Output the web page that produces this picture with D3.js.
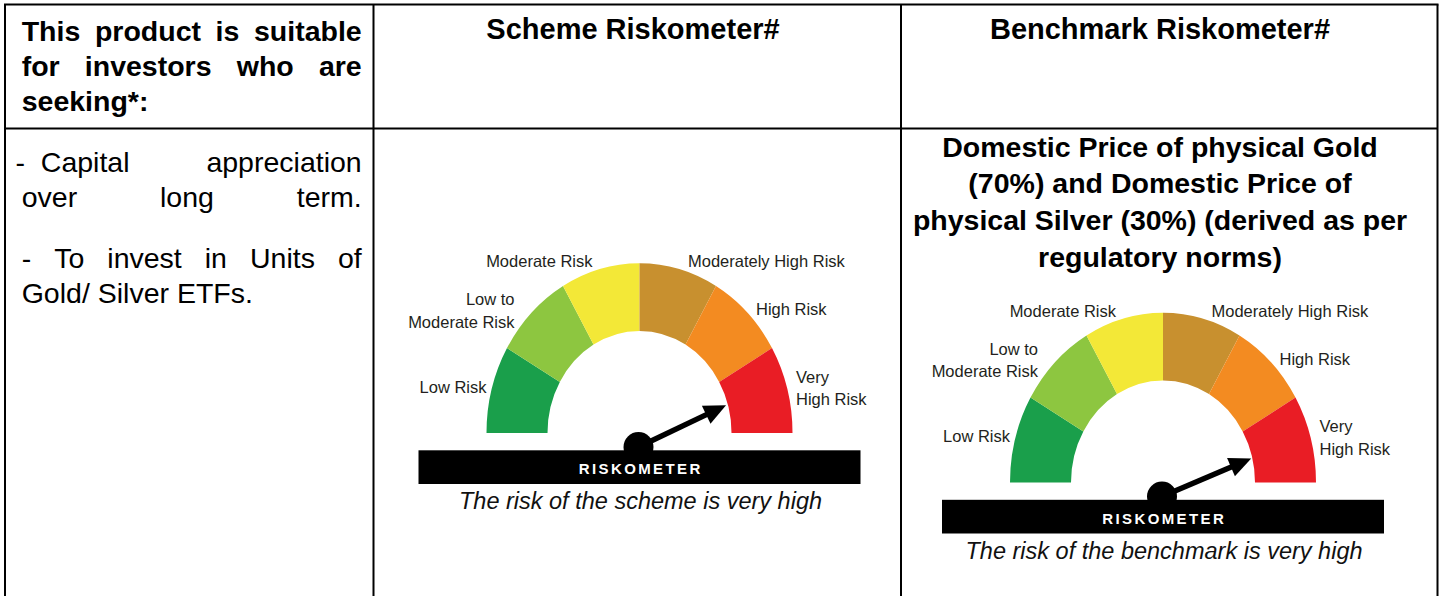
<!DOCTYPE html>
<html>
<head>
<meta charset="utf-8">
<script src="https://cdn.jsdelivr.net/npm/d3@7"></script>
<style>
  body { margin: 0; background: #fff; }
  svg { display: block; }
  text { font-family: "Liberation Sans", Arial, sans-serif; }
</style>
</head>
<body>
<div id="chart"></div>
<script>
// table text
const columnHeaders = ["Scheme Riskometer#", "Benchmark Riskometer#"];
const suitabilityHeader = [["This", "product", "is", "suitable"], ["for", "investors", "who", "are"], ["seeking*:"]];
const suitabilityLines = [["-  Capital", "appreciation"], ["over", "long", "term."], [], ["-", "To", "invest", "in", "Units", "of"], ["Gold/", "Silver", "ETFs."]];
const benchmarkName = ["Domestic Price of physical Gold", "(70%) and Domestic Price of", "physical Silver (30%) (derived as per", "regulatory norms)"];

// riskometer
const riskLevels = ["Low Risk", "Low to Moderate Risk", "Moderate Risk", "Moderately High Risk", "High Risk", "Very High Risk"];
const riskLabelLines = [["Low Risk"], ["Low to", "Moderate Risk"], ["Moderate Risk"], ["Moderately High Risk"], ["High Risk"], ["Very", "High Risk"]];
const riskColors = ["#1a9f4b", "#8dc640", "#f3e837", "#c8902f", "#f38b21", "#e91d25"];
const schemeRisk = 5.15;     // needle position, 0..6 over the six levels
const benchmarkRisk = 5.23;
const schemeCaption = "The risk of the scheme is very high";
const benchmarkCaption = "The risk of the benchmark is very high";

const width = 1442, height = 596;

const svg = d3.select("#chart")
  .append("svg")
  .attr("width", width)
  .attr("height", height);

// table grid
const gridX = [5, 373.5, 901, 1437.5];
const gridTop = 4.5, rowLine = 128.5;
const grid = svg.append("g").attr("stroke", "#000").attr("stroke-width", 2);
grid.append("line").attr("x1", gridX[0] - 1).attr("x2", gridX[3] + 1).attr("y1", gridTop).attr("y2", gridTop);
grid.append("line").attr("x1", gridX[0]).attr("x2", gridX[3]).attr("y1", rowLine).attr("y2", rowLine);
grid.selectAll(".v")
  .data(gridX)
  .enter()
  .append("line")
  .attr("x1", d => d).attr("x2", d => d)
  .attr("y1", gridTop).attr("y2", height);

// place words of one line, spread between x0 and x1 when justified
function wordLine(g, words, x0, x1, y, justify, style) {
  const texts = words.map(w => g.append("text")
    .attr("y", y)
    .attr("font-size", style.size)
    .attr("font-weight", style.weight)
    .attr("fill", "#000")
    .style("white-space", "pre")
    .text(w));
  const widths = texts.map(t => t.node().getComputedTextLength());
  const total = d3.sum(widths);
  const gap = (justify && words.length > 1) ? (x1 - x0 - total) / (words.length - 1) : style.size * 0.278;
  let x = x0;
  texts.forEach((t, i) => {
    t.attr("x", x);
    x += widths[i] + gap;
  });
}

const textG = svg.append("g");
const bold = { size: 28.5, weight: "bold" };
const regular = { size: 28.5, weight: "normal" };

suitabilityHeader.forEach((words, i) => {
  wordLine(textG, words, 21.7, 361.7, 40.7 + i * 35.2, i < suitabilityHeader.length - 1, bold);
});

const bodyY = [171.7, 206.5, 0, 268.3, 303.3];
suitabilityLines.forEach((words, i) => {
  if (!words.length) return;
  wordLine(textG, words, i === 0 ? 15.5 : 21.7, 361.7, bodyY[i], i !== suitabilityLines.length - 1, regular);
});

textG.selectAll(".colhead")
  .data(columnHeaders)
  .enter()
  .append("text")
  .attr("x", (d, i) => [633, 1160][i])
  .attr("y", 39)
  .attr("text-anchor", "middle")
  .attr("font-size", 29)
  .attr("font-weight", "bold")
  .text(d => d);

textG.selectAll(".bench")
  .data(benchmarkName)
  .enter()
  .append("text")
  .attr("x", 1160)
  .attr("y", (d, i) => 156.7 + i * 36.7)
  .attr("text-anchor", "middle")
  .attr("font-size", 28.5)
  .attr("font-weight", "bold")
  .text(d => d);

// label anchors relative to the gauge centre
const labelLayout = [
  { anchor: "end", dx: -153, dy: -40.5 },
  { anchor: "end", dx: -125, dy: -128 },
  { anchor: "end", dx: -47, dy: -166 },
  { anchor: "start", dx: 48.5, dy: -166 },
  { anchor: "start", dx: 116.5, dy: -118 },
  { anchor: "start", dx: 156.5, dy: -50.5 }
];

function drawGauge(cx, cy, value, caption) {
  const angle = d3.scaleLinear().domain([0, riskLevels.length]).range([-Math.PI / 2, Math.PI / 2]);
  const arc = d3.arc().innerRadius(92).outerRadius(153);
  const g = svg.append("g").attr("transform", `translate(${cx},${cy})`);

  g.append("g")
    .attr("transform", "scale(1,1.11)")
    .selectAll("path")
    .data(riskLevels)
    .enter()
    .append("path")
    .attr("d", (d, i) => arc({ startAngle: angle(i), endAngle: angle(i + 1) }))
    .attr("fill", (d, i) => riskColors[i]);

  // labels
  riskLabelLines.forEach((lines, i) => {
    const p = labelLayout[i];
    g.append("text")
      .attr("text-anchor", p.anchor)
      .attr("font-size", 16.5)
      .attr("fill", "#231f20")
      .selectAll("tspan")
      .data(lines)
      .enter()
      .append("tspan")
      .attr("x", p.dx)
      .attr("y", (d, j) => p.dy + j * 22.7)
      .text(d => d);
  });

  // needle
  const hub = [-1, 14];
  const a = angle(value);
  const dir = [Math.sin(a), -Math.cos(a)];
  const norm = [-dir[1], dir[0]];
  const len = 97;
  const at = (l, w) => [hub[0] + dir[0] * l + norm[0] * w, hub[1] + dir[1] * l + norm[1] * w];
  g.append("circle").attr("cx", hub[0]).attr("cy", hub[1]).attr("r", 15).attr("fill", "#000");
  g.append("line")
    .attr("x1", hub[0]).attr("y1", hub[1])
    .attr("x2", at(len - 16, 0)[0]).attr("y2", at(len - 16, 0)[1])
    .attr("stroke", "#000").attr("stroke-width", 5.5);
  g.append("path")
    .attr("d", d3.line()([at(len, 0), at(len - 22, 10), at(len - 22, -10)]) + "Z")
    .attr("fill", "#000");

  g.append("rect")
    .attr("x", -221).attr("y", 17.3)
    .attr("width", 442).attr("height", 33.7)
    .attr("fill", "#000");
  g.append("text")
    .attr("x", 1.2).attr("y", 41)
    .attr("text-anchor", "middle")
    .attr("font-size", 15)
    .attr("font-weight", "bold")
    .attr("letter-spacing", 2.4)
    .attr("fill", "#fff")
    .text("RISKOMETER");
  g.append("text")
    .attr("x", 1).attr("y", 76)
    .attr("text-anchor", "middle")
    .attr("font-size", 23.5)
    .attr("font-style", "italic")
    .attr("fill", "#111")
    .text(caption);
}

drawGauge(639.5, 433, schemeRisk, schemeCaption);
drawGauge(1163, 482.5, benchmarkRisk, benchmarkCaption);
</script>
</body>
</html>
